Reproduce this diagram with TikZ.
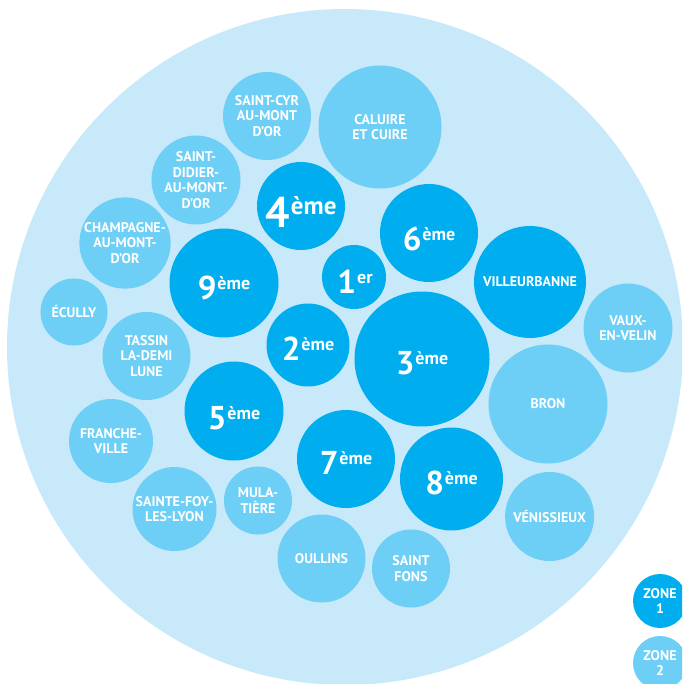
\documentclass[tikz,border=0pt]{standalone}
\usepackage{fontspec}
\setmainfont{PT Sans}
\definecolor{bgc}{RGB}{200,233,249}
\definecolor{zoneA}{RGB}{0,174,239}
\definecolor{zoneB}{RGB}{109,207,246}
\tikzset{
  zA/.style={circle, fill=zoneA, inner sep=0pt, minimum size=#1},
  zB/.style={circle, fill=zoneB, inner sep=0pt, minimum size=#1},
  lbl/.style={text=white, font=\bfseries\fontsize{14}{15.5}\selectfont, align=center},
  ord/.style={text=white, inner sep=0pt, anchor=base},
}
\newcommand\ordlbl[2]{{\bfseries\fontsize{33}{33}\selectfont #1}\kern1pt\raisebox{10pt}{\bfseries\fontsize{18}{18}\selectfont #2}}
\begin{document}
\begin{tikzpicture}[x=1pt,y=-1pt]
\useasboundingbox (0,0) rectangle (682,684);
\clip (0,0) rectangle (682,684);
\node[circle, fill=bgc, inner sep=0pt, minimum size=676pt] (bg) at (345,347) {};
% zone 1
\node[zA=88pt]  (c4) at (301,206) {};
\node[zA=98pt]  (c6) at (429,233) {};
\node[zA=64pt]  (c1) at (354,277) {};
\node[zA=109pt] (c9) at (224,283) {};
\node[zA=112pt, lbl] (cV) at (530,282) {VILLEURBANNE};
\node[zA=83pt]  (c2) at (308,345) {};
\node[zA=135pt] (c3) at (422,359) {};
\node[zA=99pt]  (c5) at (234,411) {};
\node[zA=98pt]  (c7) at (346,459) {};
\node[zA=103pt] (c8) at (451.5,479) {};
\node[ord] (t4) at (301,228) {{\bfseries\fontsize{43}{43}\selectfont 4}\kern1pt\raisebox{13.5pt}{\bfseries\fontsize{25}{25}\selectfont ème}};
\node[ord] (t6) at (429,250.5) {\ordlbl{6}{ème}};
\node[ord] (t1) at (355,293) {\ordlbl{1}{er}};
\node[ord] (t9) at (224,299) {\ordlbl{9}{ème}};
\node[ord] (t2) at (308,360) {\ordlbl{2}{ème}};
\node[ord] (t3) at (422,374) {\ordlbl{3}{ème}};
\node[ord] (t5) at (234,429) {\ordlbl{5}{ème}};
\node[ord] (t7) at (346,474.5) {\ordlbl{7}{ème}};
\node[ord] (t8) at (451.5,494) {\ordlbl{8}{ème}};
% zone 2
\node[zB=88pt, lbl]  (scyr) at (267,116) {SAINT-CYR\\AU-MONT\\D’OR};
\node[zB=123pt, lbl] (cal) at (380,127) {CALUIRE\\ET CUIRE};
\node[zB=89pt, lbl]  (sdid) at (196,180) {SAINT-\\DIDIER-\\AU-MONT-\\D’OR};
\node[zB=89pt, lbl]  (champ) at (125,243) {CHAMPAGNE-\\AU-MONT-\\D’OR};
\node[zB=67pt, lbl]  (ecu) at (74,312) {ÉCULLY};
\node[zB=88pt, lbl]  (tass) at (146.5,356) {TASSIN\\LA-DEMI\\LUNE};
\node[zB=89pt, lbl]  (vaux) at (628,328) {VAUX-\\EN-VELIN};
\node[zB=119pt, lbl] (bron) at (548,404) {BRON};
\node[zB=84pt, lbl]  (fran) at (111,441) {FRANCHE-\\VILLE};
\node[zB=84pt, lbl]  (sfoy) at (174.5,509) {SAINTE-FOY-\\LES-LYON};
\node[zB=68pt, lbl]  (mula) at (258,500.5) {MULA-\\TIÈRE};
\node[zB=88pt, lbl]  (oull) at (321.5,558.5) {OULLINS};
\node[zB=78pt, lbl]  (sfons) at (411,568.5) {SAINT\\FONS};
\node[zB=89pt, lbl]  (veni) at (549.6,516.5) {VÉNISSIEUX};
% legend
\node[zA=54pt, lbl] (zone1) at (660,601) {ZONE\\1};
\node[zB=54pt, lbl] (zone2) at (660,663) {ZONE\\2};
\end{tikzpicture}
\end{document}
